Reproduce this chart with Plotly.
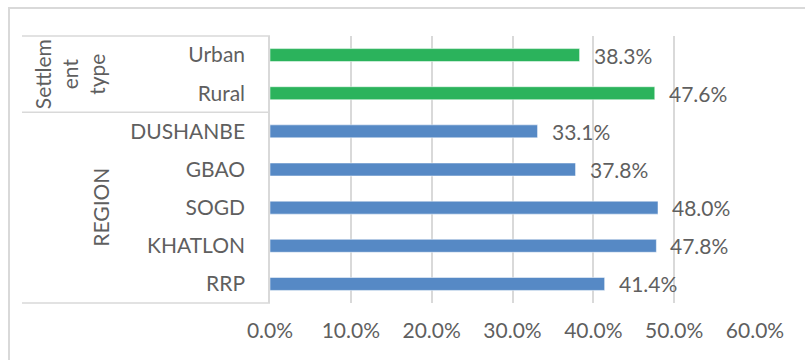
import plotly.graph_objects as go

# Share by settlement type and by region
categories = ["Urban", "Rural", "DUSHANBE", "GBAO", "SOGD", "KHATLON", "RRP"]
values = [0.383, 0.476, 0.331, 0.378, 0.480, 0.478, 0.414]
groups = ["Settlement type", "Settlement type", "REGION", "REGION", "REGION", "REGION", "REGION"]
group_labels = {"Settlement type": "Settlem<br>ent<br>type", "REGION": "REGION"}
x_ticks = [0, 0.1, 0.2, 0.3, 0.4, 0.5, 0.6]
x_ticklabels = ["0.0%", "10.0%", "20.0%", "30.0%", "40.0%", "50.0%", "60.0%"]

GREEN = "#2bb35c"
BLUE = "#5689c5"
TEXT = "#5f5f5f"
LINE = "#d9d9d9"
FONT = "Lato"
FS = 21

W, H = 805, 360
L, R, T, B = 270, 50, 36, 57
pw, ph = W - L - R, H - T - B


def px_to_paper_x(px):
    return (px - L) / pw


def px_to_paper_y(py):
    return (H - B - py) / ph


colors = [GREEN if g == "Settlement type" else BLUE for g in groups]

fig = go.Figure()
fig.add_trace(go.Bar(
    x=values, y=categories, orientation="h",
    marker=dict(color=colors, line=dict(color="rgba(255,255,255,0.5)", width=1)),
    hoverinfo="skip",
))

annotations = []
# value labels at the end of each bar
for c, v in zip(categories, values):
    annotations.append(dict(
        x=v, y=c, xref="x", yref="y", text=f"{v * 100:.1f}%",
        showarrow=False, xanchor="left", yanchor="middle", xshift=12,
        font=dict(family=FONT, size=FS, color=TEXT),
    ))

# group labels (rotated) centred on their category span
n = len(categories)
step = ph / n
seen = []
for g in groups:
    if g not in seen:
        seen.append(g)
for g in seen:
    idx = [i for i, gg in enumerate(groups) if gg == g]
    top = T + idx[0] * step
    bot = T + (idx[-1] + 1) * step
    cx = 70 if g == "Settlement type" else 101
    annotations.append(dict(
        x=px_to_paper_x(cx), y=px_to_paper_y((top + bot) / 2),
        xref="paper", yref="paper", text=group_labels[g], textangle=-90,
        showarrow=False, xanchor="center", yanchor="middle",
        font=dict(family=FONT, size=FS, color=TEXT),
    ))

shapes = []
# category box dividers
divider_rows = [0]
for i in range(1, n):
    if groups[i] != groups[i - 1]:
        divider_rows.append(i)
divider_rows.append(n)
for r in divider_rows:
    yy = px_to_paper_y(T + r * step)
    shapes.append(dict(type="line", xref="paper", yref="paper",
                       x0=px_to_paper_x(22), x1=0, y0=yy, y1=yy,
                       line=dict(color=LINE, width=1.5)))
# chart border
shapes.append(dict(type="rect", xref="paper", yref="paper",
                   x0=px_to_paper_x(9), x1=px_to_paper_x(830),
                   y0=px_to_paper_y(8), y1=px_to_paper_y(400),
                   line=dict(color=LINE, width=2), layer="below"))

fig.update_layout(
    width=W, height=H,
    margin=dict(l=L, r=R, t=T, b=B),
    paper_bgcolor="white", plot_bgcolor="white",
    bargap=0.66,
    showlegend=False,
    annotations=annotations,
    shapes=shapes,
    font=dict(family=FONT, size=FS, color=TEXT),
    xaxis=dict(
        range=[0, 0.6], tickvals=x_ticks, ticktext=x_ticklabels,
        showgrid=True, gridcolor=LINE, gridwidth=1.5,
        zeroline=False, showline=False, ticks="",
        ticklabelstandoff=13,
        tickfont=dict(family=FONT, size=FS, color=TEXT),
        fixedrange=True,
    ),
    yaxis=dict(
        categoryorder="array", categoryarray=categories, autorange="reversed",
        showgrid=False, zeroline=False, showline=True, linecolor=LINE, linewidth=1.5,
        ticks="", ticklabelstandoff=19,
        tickfont=dict(family=FONT, size=FS, color=TEXT),
        fixedrange=True,
    ),
)

fig.write_html("out.html")
